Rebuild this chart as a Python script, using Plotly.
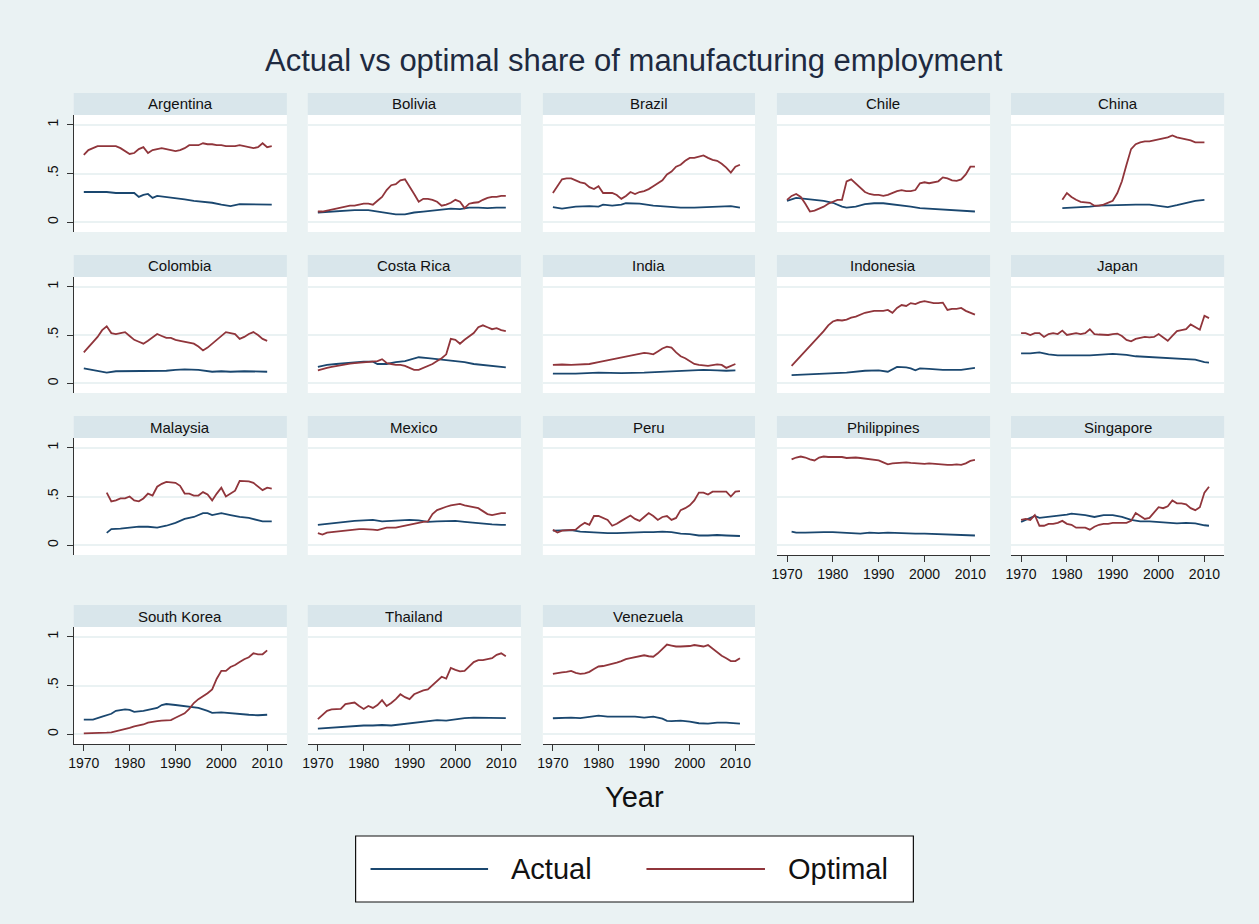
import plotly.graph_objects as go

# ---------------- DATA ----------------
countries = ["Argentina", "Bolivia", "Brazil", "Chile", "China",
             "Colombia", "Costa Rica", "India", "Indonesia", "Japan",
             "Malaysia", "Mexico", "Peru", "Philippines", "Singapore",
             "South Korea", "Thailand", "Venezuela"]

x_tick_years = [1970, 1980, 1990, 2000, 2010]
y_tick_vals = [0, 0.5, 1]
y_tick_text = ["0", ".5", "1"]

# Argentina
arg_act_years = [1970, 1975, 1977, 1980, 1981, 1982, 1983, 1984, 1985, 1986, 1988, 1990, 1992, 1994, 1996, 1998, 2000, 2002, 2004, 2006, 2008, 2010, 2011]
arg_act = [.31, .31, .30, .305, .30, .26, .28, .29, .25, .27, .26, .25, .235, .22, .21, .20, .18, .165, .185, .185, .18, .18, .18]
arg_opt_years = list(range(1970, 2012))
arg_opt = [.69, .74, .76, .78, .78, .78, .78, .78, .76, .73, .70, .71, .75, .77, .71, .74, .75, .76, .75, .74,
           .73, .74, .76, .79, .79, .79, .81, .80, .80, .79, .79, .78, .78, .78, .79, .78, .77, .76, .77, .81, .77, .78]

# Bolivia
bol_act_years = [1970, 1974, 1978, 1981, 1983, 1985, 1987, 1989, 1991, 1993, 1995, 1997, 1999, 2001, 2003, 2005, 2007, 2009, 2011]
bol_act = [.10, .115, .125, .125, .11, .09, .08, .08, .10, .11, .12, .13, .14, .135, .15, .15, .145, .15, .15]
bol_opt_years = list(range(1970, 2012))
bol_opt = [.11, .11, .12, .13, .14, .15, .16, .17, .17, .18, .19, .19, .18, .22, .26, .33, .38, .39, .43, .44,
           .37, .29, .21, .24, .24, .23, .21, .17, .18, .20, .23, .21, .145, .19, .20, .205, .23, .25, .26, .26, .27, .27]

# Brazil
bra_act_years = [1970, 1972, 1975, 1978, 1980, 1981, 1983, 1985, 1986, 1989, 1992, 1995, 1998, 2001, 2004, 2007, 2009, 2011]
bra_act = [.155, .14, .16, .165, .16, .18, .17, .18, .195, .19, .17, .16, .15, .15, .155, .165, .165, .15]
bra_opt_years = list(range(1970, 2012))
bra_opt = [.30, .37, .44, .45, .45, .43, .41, .40, .36, .34, .37, .30, .30, .30, .28, .24, .27, .31, .29, .31,
           .32, .34, .37, .40, .43, .49, .52, .57, .59, .63, .66, .66, .67, .685, .66, .64, .63, .60, .56, .51, .57, .59]

# Chile
chl_act_years = [1970, 1972, 1974, 1976, 1978, 1980, 1982, 1983, 1985, 1987, 1989, 1991, 1993, 1995, 1997, 1999, 2001, 2003, 2005, 2007, 2009, 2011]
chl_act = [.22, .25, .24, .23, .22, .20, .16, .15, .16, .185, .195, .195, .185, .175, .16, .145, .14, .135, .13, .125, .12, .11]
chl_opt_years = list(range(1970, 2012))
chl_opt = [.23, .27, .29, .26, .19, .11, .12, .14, .16, .19, .21, .23, .23, .42, .44, .40, .36, .31, .29, .28,
           .28, .27, .28, .30, .32, .33, .32, .32, .33, .40, .41, .40, .41, .42, .46, .45, .43, .425, .44, .49, .57, .57]

# China
chn_act_years = [1979, 1982, 1985, 1987, 1990, 1995, 1998, 2000, 2002, 2004, 2006, 2008, 2010]
chn_act = [.145, .15, .16, .17, .175, .18, .18, .17, .155, .175, .20, .22, .23]
chn_opt_years = list(range(1979, 2011))
chn_opt = [.23, .30, .26, .23, .21, .205, .20, .17, .17, .18, .20, .22, .30, .42, .59, .75,
           .80, .82, .83, .83, .84, .85, .86, .87, .89, .87, .86, .85, .84, .82, .82, .82]

# Colombia
col_act_years = [1970, 1972, 1975, 1977, 1980, 1985, 1988, 1990, 1992, 1995, 1998, 2000, 2002, 2005, 2008, 2010]
col_act = [.155, .135, .11, .125, .125, .125, .13, .14, .145, .14, .12, .125, .12, .125, .125, .12]
col_opt_years = list(range(1970, 2011))
col_opt = [.32, .37, .42, .48, .55, .59, .52, .51, .52, .53, .49, .45, .43, .41, .44, .48, .51, .49, .47, .47,
           .45, .44, .43, .42, .41, .38, .34, .37, .41, .45, .50, .53, .52, .51, .46, .48, .51, .53, .50, .46, .44]

# Costa Rica
cri_act_years = [1970, 1972, 1974, 1976, 1978, 1980, 1982, 1983, 1985, 1987, 1989, 1991, 1992, 1994, 1996, 1998, 2000, 2002, 2004, 2006, 2008, 2010, 2011]
cri_act = [.17, .19, .20, .21, .22, .225, .225, .20, .20, .22, .23, .26, .27, .26, .25, .24, .235, .22, .20, .19, .175, .165, .165]
cri_opt_years = list(range(1970, 2012))
cri_opt = [.135, .15, .16, .17, .18, .19, .20, .205, .21, .215, .22, .225, .23, .23, .25, .21, .20, .19, .19, .18,
           .16, .14, .14, .16, .18, .20, .23, .26, .30, .46, .45, .41, .45, .49, .52, .58, .60, .58, .56, .57, .55, .54]

# India
ind_act_years = [1970, 1975, 1980, 1985, 1990, 1995, 1998, 2000, 2003, 2006, 2008, 2010]
ind_act = [.10, .10, .11, .105, .11, .12, .125, .13, .14, .135, .13, .135]
ind_opt_years = [1970, 1972, 1974, 1976, 1978, 1980, 1982, 1984, 1986, 1988, 1990, 1991, 1992, 1993, 1994, 1995,
                 1996, 1997, 1998, 1999, 2000, 2001, 2002, 2004, 2006, 2007, 2008, 2009, 2010]
ind_opt = [.19, .195, .19, .195, .20, .22, .24, .26, .28, .30, .315, .31, .30, .33, .36, .38,
           .37, .32, .28, .26, .23, .20, .19, .18, .195, .19, .16, .18, .20]

# Indonesia
idn_act_years = [1971, 1975, 1980, 1983, 1987, 1990, 1992, 1994, 1996, 1997, 1998, 1999, 2001, 2004, 2008, 2011]
idn_act = [.085, .095, .105, .11, .13, .135, .12, .17, .165, .155, .135, .155, .15, .14, .14, .16]
idn_opt_years = list(range(1971, 2012))
idn_opt = [.18, .23, .28, .33, .38, .43, .49, .54, .60, .64, .655, .65, .66, .68, .69, .71, .73, .74, .75,
           .75, .75, .76, .73, .78, .81, .80, .83, .82, .84, .85, .84, .83, .83, .835, .76, .77, .77, .78, .75, .73, .71]

# Japan
jpn_act_years = [1970, 1972, 1974, 1976, 1978, 1980, 1985, 1990, 1993, 1995, 2000, 2003, 2006, 2008, 2010, 2011]
jpn_act = [.31, .31, .32, .30, .29, .29, .29, .305, .295, .28, .265, .255, .245, .245, .22, .215]
jpn_opt_years = list(range(1970, 2012))
jpn_opt = [.52, .52, .50, .52, .52, .48, .51, .52, .51, .545, .50, .51, .52, .51, .52, .56, .51, .505, .50, .50,
           .51, .515, .49, .45, .435, .46, .47, .48, .475, .48, .51, .47, .44, .49, .54, .55, .56, .61, .58, .555, .70, .675]

# Malaysia
mys_act_years = [1975, 1976, 1978, 1980, 1982, 1984, 1986, 1988, 1990, 1992, 1994, 1996, 1997, 1998, 2000, 2002, 2004, 2006, 2008, 2009, 2011]
mys_act = [.127, .165, .17, .18, .19, .19, .18, .20, .23, .27, .29, .33, .33, .31, .33, .31, .29, .28, .26, .245, .245]
mys_opt_years = list(range(1975, 2012))
mys_opt = [.54, .45, .46, .48, .48, .50, .46, .45, .48, .53, .51, .60, .63, .65, .645, .64, .61, .53, .53,
           .51, .51, .545, .52, .46, .53, .59, .50, .53, .56, .66, .66, .655, .64, .60, .565, .59, .58]

# Mexico
mex_act_years = [1970, 1972, 1974, 1976, 1978, 1980, 1982, 1984, 1986, 1988, 1990, 1992, 1994, 1996, 1998, 2000, 2002, 2004, 2006, 2008, 2010, 2011]
mex_act = [.21, .22, .235, .24, .25, .255, .26, .245, .25, .255, .26, .255, .24, .245, .25, .25, .24, .23, .22, .215, .21, .21]
mex_opt_years = list(range(1970, 2012))
mex_opt = [.125, .11, .13, .135, .14, .145, .15, .16, .16, .165, .165, .165, .16, .155, .17, .18, .18, .18, .19, .20,
           .21, .22, .235, .24, .245, .32, .36, .38, .395, .41, .415, .425, .41, .40, .39, .38, .35, .32, .31, .32, .33, .33]

# Peru
per_act_years = [1970, 1972, 1974, 1976, 1978, 1980, 1982, 1984, 1986, 1988, 1990, 1992, 1994, 1996, 1998, 2000, 2002, 2004, 2006, 2008, 2010, 2011]
per_act = [.15, .155, .155, .14, .135, .125, .125, .125, .13, .135, .135, .135, .14, .135, .12, .115, .10, .10, .105, .10, .095, .095]
per_opt_years = list(range(1970, 2012))
per_opt = [.16, .13, .15, .155, .16, .16, .20, .23, .21, .30, .30, .28, .26, .20, .22, .25, .28, .305, .27, .25,
           .29, .33, .30, .26, .29, .30, .26, .28, .36, .38, .41, .46, .54, .54, .52, .55, .55, .55, .55, .50, .55, .555]

# Philippines
phl_act_years = [1971, 1972, 1974, 1976, 1978, 1980, 1982, 1984, 1986, 1988, 1990, 1992, 1994, 1996, 1998, 2000, 2002, 2004, 2006, 2008, 2010, 2011]
phl_act = [.14, .13, .13, .135, .135, .135, .13, .125, .12, .13, .125, .13, .125, .125, .12, .12, .115, .11, .105, .10, .10, .10]
phl_opt_years = list(range(1971, 2012))
phl_opt = [.88, .90, .91, .90, .88, .87, .90, .91, .905, .905, .91, .905, .895, .90, .90, .895, .89, .88, .875,
           .87, .85, .83, .84, .845, .85, .85, .845, .84, .84, .835, .84, .835, .835, .83, .825, .825, .83, .825, .84, .865, .875]

# Singapore
sgp_act_years = [1970, 1971, 1972, 1973, 1974, 1976, 1978, 1980, 1981, 1984, 1986, 1988, 1990, 1992, 1994, 1996, 1998, 2000, 2002, 2004, 2006, 2008, 2010, 2011]
sgp_act = [.24, .26, .28, .30, .28, .29, .30, .315, .325, .31, .29, .31, .31, .29, .26, .245, .245, .24, .23, .225, .23, .225, .205, .20]
sgp_opt_years = list(range(1970, 2012))
sgp_opt = [.26, .27, .26, .31, .20, .20, .22, .22, .23, .25, .22, .21, .18, .18, .18, .16, .19, .21, .22, .22,
           .23, .23, .23, .23, .25, .33, .30, .27, .28, .33, .39, .38, .40, .46, .43, .43, .42, .38, .36, .39, .54, .60]

# South Korea
kor_act_years = [1970, 1972, 1974, 1976, 1977, 1979, 1980, 1981, 1983, 1985, 1986, 1987, 1988, 1990, 1992, 1993, 1995, 1997, 1998, 2000, 2002, 2004, 2006, 2008, 2009, 2010]
kor_act = [.15, .15, .18, .21, .24, .255, .25, .23, .24, .26, .27, .30, .31, .30, .29, .28, .27, .24, .22, .225, .215, .21, .20, .195, .195, .20]
kor_opt_years = list(range(1970, 2011))
kor_opt = [.01, .01, .01, .012, .015, .017, .02, .03, .04, .05, .065, .08, .09, .10, .12, .13, .135, .14, .145, .145,
           .17, .19, .215, .26, .32, .36, .39, .42, .46, .57, .65, .65, .69, .71, .74, .77, .79, .83, .82, .82, .86]

# Thailand
tha_act_years = [1970, 1972, 1974, 1976, 1978, 1980, 1982, 1984, 1986, 1988, 1990, 1992, 1994, 1996, 1998, 2000, 2002, 2004, 2006, 2008, 2010, 2011]
tha_act = [.058, .065, .07, .075, .08, .09, .09, .095, .09, .10, .11, .12, .13, .144, .14, .155, .165, .17, .17, .165, .165, .165]
tha_opt_years = list(range(1970, 2012))
tha_opt = [.155, .20, .24, .255, .26, .26, .31, .32, .325, .29, .26, .29, .27, .30, .35, .29, .32, .36, .41, .38,
           .36, .41, .43, .45, .46, .50, .55, .59, .57, .68, .66, .645, .65, .69, .74, .76, .76, .77, .78, .815, .83, .80]

# Venezuela
ven_act_years = [1970, 1972, 1974, 1976, 1978, 1980, 1982, 1984, 1986, 1988, 1990, 1992, 1994, 1995, 1996, 1998, 2000, 2002, 2004, 2006, 2008, 2010, 2011]
ven_act = [.164, .17, .17, .165, .175, .19, .18, .18, .185, .18, .17, .18, .16, .137, .135, .14, .13, .113, .11, .12, .12, .11, .11]
ven_opt_years = list(range(1970, 2012))
ven_opt = [.62, .63, .635, .64, .65, .63, .62, .625, .64, .67, .695, .70, .71, .72, .735, .75, .77, .78, .79, .80,
           .81, .80, .795, .83, .88, .92, .91, .90, .90, .90, .905, .915, .91, .90, .915, .88, .84, .805, .78, .75, .75, .78]

series = {
    "Argentina": (arg_act_years, arg_act, arg_opt_years, arg_opt),
    "Bolivia": (bol_act_years, bol_act, bol_opt_years, bol_opt),
    "Brazil": (bra_act_years, bra_act, bra_opt_years, bra_opt),
    "Chile": (chl_act_years, chl_act, chl_opt_years, chl_opt),
    "China": (chn_act_years, chn_act, chn_opt_years, chn_opt),
    "Colombia": (col_act_years, col_act, col_opt_years, col_opt),
    "Costa Rica": (cri_act_years, cri_act, cri_opt_years, cri_opt),
    "India": (ind_act_years, ind_act, ind_opt_years, ind_opt),
    "Indonesia": (idn_act_years, idn_act, idn_opt_years, idn_opt),
    "Japan": (jpn_act_years, jpn_act, jpn_opt_years, jpn_opt),
    "Malaysia": (mys_act_years, mys_act, mys_opt_years, mys_opt),
    "Mexico": (mex_act_years, mex_act, mex_opt_years, mex_opt),
    "Peru": (per_act_years, per_act, per_opt_years, per_opt),
    "Philippines": (phl_act_years, phl_act, phl_opt_years, phl_opt),
    "Singapore": (sgp_act_years, sgp_act, sgp_opt_years, sgp_opt),
    "South Korea": (kor_act_years, kor_act, kor_opt_years, kor_opt),
    "Thailand": (tha_act_years, tha_act, tha_opt_years, tha_opt),
    "Venezuela": (ven_act_years, ven_act, ven_opt_years, ven_opt),
}

# ---------------- STYLE / LAYOUT ----------------
W, H = 1259, 924
FONT = "Liberation Sans, Arial, Helvetica, sans-serif"
BG = "#EAF2F3"
STRIP = "#D9E6EB"
C_ACT = "#1a476f"
C_OPT = "#90353b"
AXC = "#333333"

col_x = [(69, 283), (304, 518), (540, 753), (775, 989), (1010, 1224)]
row_y = [(115, 232), (277, 393), (438, 555), (627, 744)]
STRIP_H = 22
bottom_panels = {13, 14, 15, 16, 17}


def px(x):
    return x / W


def py(y):
    return 1 - y / H


fig = go.Figure()
layout = dict(
    width=W, height=H, autosize=False,
    margin=dict(l=0, r=0, t=0, b=0),
    paper_bgcolor=BG, plot_bgcolor="white",
    font=dict(family=FONT, color="#111111"),
    showlegend=False,
)
shapes = []
annotations = []

for i, name in enumerate(countries):
    r, c = divmod(i, 5)
    x0, x1 = col_x[c]
    y0, y1 = row_y[r]
    n = "" if i == 0 else str(i + 1)
    ax_x, ax_y = "x" + n, "y" + n
    ay, ac, oy, oc = series[name]
    fig.add_trace(go.Scatter(x=ay, y=ac, mode="lines", xaxis=ax_x, yaxis=ax_y,
                             line=dict(color=C_ACT, width=1.8), name="Actual"))
    fig.add_trace(go.Scatter(x=oy, y=oc, mode="lines", xaxis=ax_x, yaxis=ax_y,
                             line=dict(color=C_OPT, width=1.8), name="Optimal"))
    is_bottom = i in bottom_panels
    xa = dict(domain=[px(x0), px(x1)], anchor=ax_y, range=[1967.8, 2014.3],
              showgrid=False, zeroline=False, fixedrange=True)
    if is_bottom:
        xa.update(showline=True, linecolor=AXC, linewidth=1, ticks="outside", ticklen=6,
                  tickcolor=AXC, tickvals=x_tick_years, tickfont=dict(size=14, color="#111"))
    else:
        xa.update(showline=False, ticks="", showticklabels=False)
    ya = dict(domain=[py(y1), py(y0)], anchor=ax_x, range=[-0.1, 1.1],
              showgrid=True, gridcolor=BG, gridwidth=1.6, zeroline=False,
              tickvals=y_tick_vals, ticktext=y_tick_text, fixedrange=True)
    if c == 0:
        ya.update(showline=True, linecolor=AXC, linewidth=1, ticks="outside", ticklen=6,
                  tickcolor=AXC, tickangle=-90, tickfont=dict(size=14, color="#111"),
                  ticklabelstandoff=3)
    else:
        ya.update(showline=False, ticks="", showticklabels=False)
    layout["xaxis" + n] = xa
    layout["yaxis" + n] = ya
    # strip
    shapes.append(dict(type="rect", xref="paper", yref="paper",
                       x0=px(x0), x1=px(x1), y0=py(y0), y1=py(y0 - STRIP_H),
                       fillcolor=STRIP, line=dict(width=0), layer="below"))
    annotations.append(dict(text=name, xref="paper", yref="paper",
                            x=px((x0 + x1) / 2), y=py(y0 - STRIP_H / 2),
                            xanchor="center", yanchor="middle", showarrow=False,
                            font=dict(size=15, color="#111")))

# title
annotations.append(dict(text="Actual vs optimal share of manufacturing employment",
                        xref="paper", yref="paper", x=px(632), y=py(60),
                        xanchor="center", yanchor="middle", showarrow=False,
                        font=dict(size=31, color="#1e2a40")))
# x axis title
annotations.append(dict(text="Year", xref="paper", yref="paper", x=px(632), y=py(797),
                        xanchor="center", yanchor="middle", showarrow=False,
                        font=dict(size=29, color="#111")))

# legend (drawn manually to match the wide Stata key)
shapes.append(dict(type="rect", xref="paper", yref="paper",
                   x0=px(352), x1=px(912), y0=py(902), y1=py(836),
                   fillcolor="white", line=dict(color="#111", width=1.2)))
legend_items = [("Actual", C_ACT, 367, 485, 506), ("Optimal", C_OPT, 644, 763, 784)]
for label, colr, lx0, lx1, tx in legend_items:
    shapes.append(dict(type="line", xref="paper", yref="paper",
                       x0=px(lx0), x1=px(lx1), y0=py(869), y1=py(869),
                       line=dict(color=colr, width=2)))
    annotations.append(dict(text=label, xref="paper", yref="paper", x=px(tx), y=py(869),
                            xanchor="left", yanchor="middle", showarrow=False,
                            font=dict(size=29, color="#111")))

layout["shapes"] = shapes
layout["annotations"] = annotations
fig.update_layout(**layout)
fig.write_html("out.html")
